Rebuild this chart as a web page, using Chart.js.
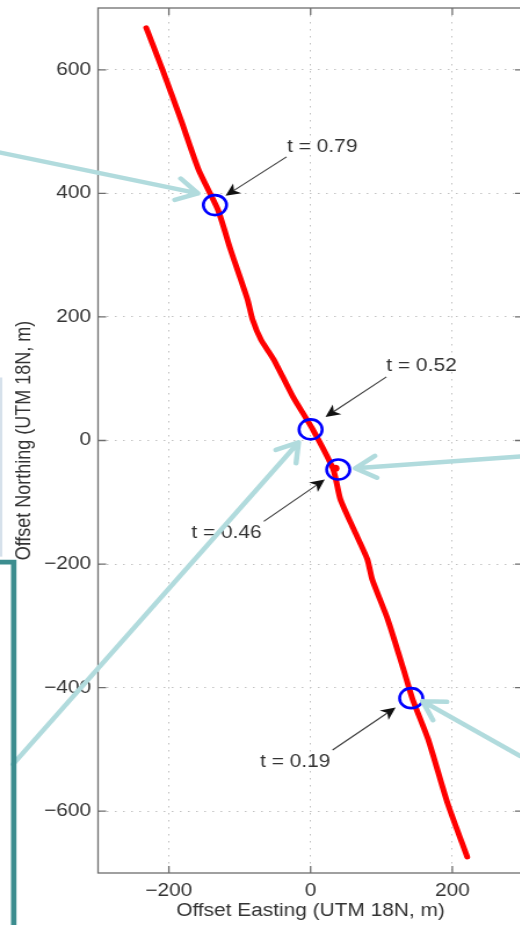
<!DOCTYPE html>
<html>
<head>
<meta charset="utf-8">
<title>Track crossings</title>
<script src="https://cdn.jsdelivr.net/npm/chart.js@4.4.1/dist/chart.umd.min.js"></script>
<style>
  html, body { margin: 0; padding: 0; background: #fff; overflow: hidden; }
  #page { position: relative; width: 520px; height: 925px; overflow: hidden; }
  /* the source figure is stretched sideways a bit, so the canvas is too */
  #wrap { position: absolute; left: 0; top: 0; width: 456px; height: 925px; transform: scaleX(1.16); transform-origin: 0 0; }
</style>
</head>
<body>
<div id="page"><div id="wrap"><canvas id="track" width="456" height="925"></canvas></div></div>
<script>
// ------------------------------------------------------------
// Data (metres, offset from local origin)
// ------------------------------------------------------------
const trackEast  = [-232, -209, -183, -158, -131, -113, -89, -82, -70, -52, -25, 3, 32, 42, 61, 80, 87, 109, 131, 144, 166, 193, 221];
const trackNorth = [668, 600, 519, 438, 374, 309, 228, 196, 163, 131, 71, 18, -47, -95, -144, -192, -225, -290, -370, -419, -484, -586, -674];

const markLabels = ['t = 0.79', 't = 0.52', 't = 0.46', 't = 0.19'];
const markEast   = [-135, 0, 39, 142];
const markNorth  = [381, 18, -47, -417];

const blobEast  = [35];
const blobNorth = [-45];

const xTickValues = [-200, 0, 200];
const yTickValues = [-600, -400, -200, 0, 200, 400, 600];

// Callouts (data units): label anchor, arrow tail, arrow tip
const callouts = [
  { text: markLabels[0], align: 'left',  at: [-33, 475],  from: [-34, 459],  to: [-120, 396] },
  { text: markLabels[1], align: 'left',  at: [107, 120],  from: [107, 103],  to: [21, 38] },
  { text: markLabels[2], align: 'right', at: [-69, -149], from: [-66, -131], to: [20, -63] },
  { text: markLabels[3], align: 'right', at: [28, -521],  from: [31, -501],  to: [120, -432] }
];

// Pale overlay arrows pointing in from the page edges
const pointers = [
  { from: [-438, 466],  to: [-159, 400] },
  { from: [-420, -524], to: [-17, -3] },
  { from: [296, -26],   to: [63, -45] },
  { from: [296, -511],  to: [158, -422] }
];

const FONT = '"Liberation Sans", Arial, Helvetica, sans-serif';
Chart.defaults.font.family = FONT;
Chart.defaults.font.size = 18;
Chart.defaults.color = '#333';

function tickText(v) {
  return v < 0 ? '\u2212' + Math.abs(v) : String(v);
}

function toPx(chart, p) {
  return { x: chart.scales.x.getPixelForValue(p[0]), y: chart.scales.y.getPixelForValue(p[1]) };
}

// Axes box + inward ticks (MATLAB style)
const framePlugin = {
  id: 'frame',
  beforeDatasetsDraw(chart) {
    const { ctx, chartArea: a, scales: { x, y } } = chart;
    ctx.save();
    ctx.strokeStyle = '#6e6e6e';
    ctx.lineWidth = 1.3;
    ctx.strokeRect(a.left, a.top, a.right - a.left, a.bottom - a.top);
    ctx.beginPath();
    xTickValues.forEach(v => {
      const px = x.getPixelForValue(v);
      ctx.moveTo(px, a.bottom); ctx.lineTo(px, a.bottom - 7);
      ctx.moveTo(px, a.top);    ctx.lineTo(px, a.top + 7);
    });
    yTickValues.forEach(v => {
      const py = y.getPixelForValue(v);
      ctx.moveTo(a.left, py);  ctx.lineTo(a.left + 7, py);
      ctx.moveTo(a.right, py); ctx.lineTo(a.right - 7, py);
    });
    ctx.stroke();
    ctx.restore();
  }
};

function blackArrow(ctx, a, b) {
  const ang = Math.atan2(b.y - a.y, b.x - a.x);
  const len = 14, spread = 0.45;
  const back = { x: b.x - len * 0.65 * Math.cos(ang), y: b.y - len * 0.65 * Math.sin(ang) };
  ctx.strokeStyle = '#3a3a3a';
  ctx.lineWidth = 1.1;
  ctx.beginPath();
  ctx.moveTo(a.x, a.y);
  ctx.lineTo(back.x, back.y);
  ctx.stroke();
  ctx.fillStyle = '#111';
  ctx.beginPath();
  ctx.moveTo(b.x, b.y);
  ctx.lineTo(b.x - len * Math.cos(ang - spread), b.y - len * Math.sin(ang - spread));
  ctx.lineTo(back.x, back.y);
  ctx.lineTo(b.x - len * Math.cos(ang + spread), b.y - len * Math.sin(ang + spread));
  ctx.closePath();
  ctx.fill();
}

function paleArrow(ctx, a, b) {
  const ang = Math.atan2(b.y - a.y, b.x - a.x);
  const len = 21, spread = 0.55;
  ctx.strokeStyle = '#b1dbdd';
  ctx.lineWidth = 4.5;
  ctx.lineCap = 'round';
  ctx.lineJoin = 'round';
  ctx.beginPath();
  ctx.moveTo(a.x, a.y);
  ctx.lineTo(b.x, b.y);
  ctx.moveTo(b.x - len * Math.cos(ang - spread), b.y - len * Math.sin(ang - spread));
  ctx.lineTo(b.x, b.y);
  ctx.lineTo(b.x - len * Math.cos(ang + spread), b.y - len * Math.sin(ang + spread));
  ctx.stroke();
}

const overlayPlugin = {
  id: 'overlay',
  afterDraw(chart) {
    const ctx = chart.ctx;
    ctx.save();

    // faint edge of neighbouring panel
    const p1 = toPx(chart, [-438, 102]);
    const p2 = toPx(chart, [-438, -188]);
    ctx.fillStyle = '#d6e1eb';
    ctx.fillRect(0, p1.y, 2, p2.y - p1.y);

    // labelled black arrows
    ctx.font = '18px ' + FONT;
    ctx.textBaseline = 'middle';
    callouts.forEach(c => {
      blackArrow(ctx, toPx(chart, c.from), toPx(chart, c.to));
      const t = toPx(chart, c.at);
      ctx.fillStyle = '#333';
      ctx.textAlign = c.align;
      ctx.fillText(c.text, t.x, t.y);
    });

    // pale overlay arrows
    pointers.forEach(p => paleArrow(ctx, toPx(chart, p.from), toPx(chart, p.to)));

    // teal bracket at lower left
    const corner = toPx(chart, [-419, -197]);
    ctx.strokeStyle = '#3c8d8f';
    ctx.lineWidth = 4.7;
    ctx.lineCap = 'butt';
    ctx.lineJoin = 'miter';
    ctx.beginPath();
    ctx.moveTo(-5, corner.y);
    ctx.lineTo(corner.x, corner.y);
    ctx.lineTo(corner.x, chart.height + 5);
    ctx.stroke();

    ctx.restore();
  }
};

new Chart(document.getElementById('track'), {
  type: 'scatter',
  data: {
    datasets: [
      {
        label: 'Crossings',
        data: markEast.map((x, i) => ({ x, y: markNorth[i] })),
        pointStyle: 'circle',
        pointRadius: 10,
        pointBorderWidth: 2.6,
        borderColor: '#0000ff',
        backgroundColor: 'rgba(0,0,0,0)',
        showLine: false
      },
      {
        label: 'Blob',
        data: blobEast.map((x, i) => ({ x, y: blobNorth[i] })),
        pointRadius: 3.5,
        pointBorderWidth: 0,
        backgroundColor: '#ff0000',
        borderColor: '#ff0000',
        showLine: false
      },
      {
        label: 'Track',
        data: trackEast.map((x, i) => ({ x, y: trackNorth[i] })),
        showLine: true,
        borderColor: '#ff0000',
        borderWidth: 5,
        borderCapStyle: 'round',
        borderJoinStyle: 'round',
        pointRadius: 0,
        tension: 0.2
      }
    ]
  },
  options: {
    responsive: false,
    animation: false,
    layout: { autoPadding: false, padding: { top: 8, right: 5, left: 0, bottom: 0 } },
    plugins: {
      legend: { display: false },
      tooltip: { enabled: false }
    },
    scales: {
      x: {
        type: 'linear',
        min: -300,
        max: 300,
        afterBuildTicks: s => { s.ticks = xTickValues.map(v => ({ value: v })); },
        afterFit: s => { s.height = 52; s.paddingLeft = 0; s.paddingRight = 0; },
        ticks: { callback: tickText, padding: 7, maxRotation: 0, autoSkip: false },
        grid: { color: '#c2c2c2', lineWidth: 1, drawTicks: false },
        border: { display: false, dash: [1.5, 5.5] },
        title: {
          display: true,
          text: 'Offset Easting (UTM 18N, m)',
          color: '#333',
          font: { size: 18 },
          padding: { top: 0, bottom: 3 }
        }
      },
      y: {
        type: 'linear',
        min: -700,
        max: 700,
        afterBuildTicks: s => { s.ticks = yTickValues.map(v => ({ value: v })); },
        // fixed gutter; drop the half-label padding so the box starts 8px from the top
        afterFit: s => { s.width = 84.5; s.paddingTop = 0; s.paddingBottom = 0; },
        ticks: { callback: tickText, padding: 6, autoSkip: false },
        grid: { color: '#c2c2c2', lineWidth: 1, drawTicks: false },
        border: { display: false, dash: [1.5, 5.5] },
        title: {
          display: true,
          text: 'Offset Northing (UTM 18N, m)',
          color: '#333',
          font: { size: 18 },
          padding: { top: 10, bottom: 0 }
        }
      }
    }
  },
  plugins: [framePlugin, overlayPlugin]
});
</script>
</body>
</html>
